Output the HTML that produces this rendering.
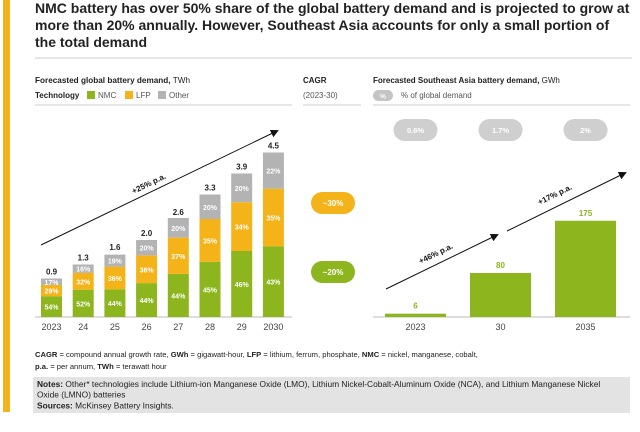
<!DOCTYPE html>
<html><head><meta charset="utf-8"><style>
html,body{margin:0;padding:0;background:#fff;}
body{width:640px;height:427px;overflow:hidden;font-family:"Liberation Sans",sans-serif;}
</style></head><body>
<svg id="chart" width="640" height="427" viewBox="0 0 640 427" xmlns="http://www.w3.org/2000/svg" font-family="Liberation Sans, sans-serif">
<defs><marker id="ah" markerWidth="8" markerHeight="8" refX="6" refY="4" orient="auto"><path d="M0,0 L8,4 L0,8 Z" fill="#111"/></marker></defs>
<rect x="3" y="0" width="7" height="412" fill="#f5b31a"/>
<g font-size="14" font-weight="bold" fill="#222">
<text x="35" y="13">NMC battery has over 50% share of the global battery demand and is projected to grow at</text>
<text x="35" y="30">more than 20% annually. However, Southeast Asia accounts for only a small portion of</text>
<text x="35" y="47">the total demand</text>
</g>
<line x1="35" y1="58" x2="632" y2="58" stroke="#ccc"/>
<text x="35" y="83" font-size="8.2" fill="#222"><tspan font-weight="bold">Forecasted global battery demand,</tspan> TWh</text>
<g font-size="8" fill="#555">
<text x="35" y="98" font-weight="bold" fill="#222">Technology</text>
<rect x="87" y="91" width="8" height="8" fill="#8cb51e"/><text x="98" y="98">NMC</text>
<rect x="125" y="91" width="8" height="8" fill="#f5b31a"/><text x="136" y="98">LFP</text>
<rect x="158" y="91" width="8" height="8" fill="#b3b3b3"/><text x="169" y="98">Other</text>
</g>
<line x1="35" y1="105" x2="292" y2="105" stroke="#ccc"/>
<text x="303" y="83" font-size="8" font-weight="bold" fill="#222">CAGR</text>
<text x="303" y="98" font-size="8" fill="#555">(2023-30)</text>
<line x1="303" y1="105" x2="361" y2="105" stroke="#ccc"/>
<text x="373" y="83" font-size="8" fill="#222"><tspan font-weight="bold">Forecasted Southeast Asia battery demand,</tspan> GWh</text>
<rect x="373" y="90" width="20" height="11" rx="5.5" fill="#c4c4c4"/>
<text x="383" y="98.5" font-size="6.5" fill="#fff" font-weight="bold" text-anchor="middle">%</text>
<text x="401" y="98" font-size="8" fill="#555">% of global demand</text>
<line x1="373" y1="105" x2="630" y2="105" stroke="#ccc"/>
<rect x="311" y="192" width="44" height="22" rx="11" fill="#f5b31a"/>
<text x="333" y="206" font-size="8" font-weight="bold" fill="#fff" text-anchor="middle">~30%</text>
<rect x="311" y="261" width="44" height="22" rx="11" fill="#8cb51e"/>
<text x="333" y="275" font-size="8" font-weight="bold" fill="#fff" text-anchor="middle">~20%</text>
<g id="left"></g><g id="right"></g>
<g font-size="7.6" fill="#222">
<text x="35" y="357"><tspan font-weight="bold">CAGR</tspan> = compound annual growth rate, <tspan font-weight="bold">GWh</tspan> = gigawatt-hour, <tspan font-weight="bold">LFP</tspan> = lithium, ferrum, phosphate, <tspan font-weight="bold">NMC</tspan> = nickel, manganese, cobalt,</text>
<text x="35" y="369"><tspan font-weight="bold">p.a.</tspan> = per annum, <tspan font-weight="bold">TWh</tspan> = terawatt hour</text>
</g>
<rect x="33" y="377" width="597" height="36" fill="#e3e3e3"/>
<g font-size="8.4" fill="#222">
<text x="37" y="387"><tspan font-weight="bold">Notes:</tspan> Other* technologies include Lithium-ion Manganese Oxide (LMO), Lithium Nickel-Cobalt-Aluminum Oxide (NCA), and Lithium Manganese Nickel</text>
<text x="37" y="397.5">Oxide (LMNO) batteries</text>
<text x="37" y="408.5"><tspan font-weight="bold">Sources:</tspan> McKinsey Battery Insights.</text>
</g>
</svg>
<script>
const years=["2023","24","25","26","27","28","29","2030"];
const totals=[0.9,1.3,1.6,2.0,2.6,3.3,3.9,4.5];
const nmcPct=[54,52,44,44,44,45,46,43];
const lfpPct=[29,32,36,36,37,35,34,35];
const otherPct=[17,16,19,20,20,20,20,22];
const seaYears=["2023","30","2035"];
const seaValues=[6,80,175];
const seaShare=["0.6%","1.7%","2%"];
const NS="http://www.w3.org/2000/svg";
function mk(tag,attrs,parent,txt){const e=document.createElementNS(NS,tag);for(const k in attrs)e.setAttribute(k,attrs[k]);if(txt!==undefined)e.textContent=txt;parent.appendChild(e);return e;}
const base=317;
const xL=i=>41+i*31.7, bw=21;
const yL=v=>base-(7+35*v);
const L=document.getElementById('left');
mk('line',{x1:35,y1:base,x2:292,y2:base,stroke:'#bbb'},L);
years.forEach((yr,i)=>{
  const segs=[[nmcPct[i],'#8cb51e'],[lfpPct[i],'#f5b31a'],[otherPct[i],'#b3b3b3']];
  const tot=base-yL(totals[i]); let y=base;
  segs.forEach(([p,c],j)=>{
    const h=tot*p/100; y-=h;
    const r=mk('rect',{x:xL(i),y:y,width:bw,height:h,fill:c},L);
    
    
    mk('text',{x:xL(i)+bw/2,y:y+h/2+3,'font-size':7,'font-weight':'bold',fill:'#fff','text-anchor':'middle'},L,p+'%');
  });
  const tl=mk('text',{x:xL(i)+bw/2,y:yL(totals[i])-4,'font-size':8,'font-weight':'bold',fill:'#222','text-anchor':'middle'},L,totals[i].toFixed(1));
  
  
  mk('text',{x:xL(i)+bw/2,y:330,'font-size':9,fill:'#444','text-anchor':'middle'},L,yr);
});
mk('line',{x1:41,y1:245,x2:277,y2:131,stroke:'#111','stroke-width':1,'marker-end':'url(#ah)'},L);
mk('text',{x:150,y:186,'font-size':8,'font-weight':'bold',fill:'#111','text-anchor':'middle',transform:'rotate(-25.8 150 186)'},L,'+25% p.a.');
const R=document.getElementById('right');
const xR=i=>385+i*85, rw=61;
const yR=v=>base-0.55*v;
mk('line',{x1:373,y1:base,x2:630,y2:base,stroke:'#bbb'},R);
seaYears.forEach((yr,i)=>{
  const b=mk('rect',{x:xR(i),y:yR(seaValues[i]),width:rw,height:base-yR(seaValues[i]),fill:'#8cb51e'},R);
  
  
  mk('text',{x:xR(i)+rw/2,y:yR(seaValues[i])-5,'font-size':8,'font-weight':'bold',fill:'#8cb51e','text-anchor':'middle'},R,seaValues[i]);
  mk('text',{x:xR(i)+rw/2,y:330,'font-size':9,fill:'#444','text-anchor':'middle'},R,yr);
  const p=mk('rect',{x:xR(i)+rw/2-22,y:119,width:44,height:22,rx:11,fill:'#cfcfcf'},R);
  
  
  mk('text',{x:xR(i)+rw/2,y:133,'font-size':7.5,'font-weight':'bold',fill:'#fff','text-anchor':'middle'},R,seaShare[i]);
});
mk('line',{x1:386,y1:289,x2:497,y2:235,stroke:'#111','marker-end':'url(#ah)'},R);
mk('line',{x1:507,y1:231,x2:625,y2:173,stroke:'#111','marker-end':'url(#ah)'},R);
mk('text',{x:437,y:256,'font-size':8,'font-weight':'bold',fill:'#111','text-anchor':'middle',transform:'rotate(-26 437 256)'},R,'+46% p.a.');
mk('text',{x:556,y:197,'font-size':8,'font-weight':'bold',fill:'#111','text-anchor':'middle',transform:'rotate(-26 556 197)'},R,'+17% p.a.');
</script>
</body></html>
